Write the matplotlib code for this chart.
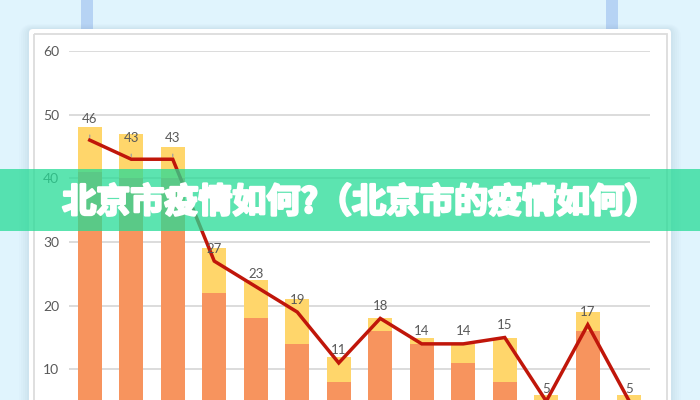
import matplotlib
matplotlib.use("Agg")
import matplotlib.pyplot as plt
from matplotlib.patches import Rectangle, FancyBboxPatch
from matplotlib.transforms import Affine2D
import matplotlib.patheffects as pe
import numpy as np

# ---- data ----
categories = list(range(1, 15))
lower_values = [41, 40, 40, 22, 18, 14, 8, 16, 14, 11, 8, 4, 16, 4]
upper_values = [7, 7, 5, 7, 6, 7, 4, 2, 1, 3, 7, 2, 3, 2]
line_values = [46, 43, 43, 27, 23, 19, 11, 18, 14, 14, 15, 5, 17, 5]
y_ticks = [10, 20, 30, 40, 50, 60]
title_text = "北京市疫情如何?（北京市的疫情如何）"

W, H = 700, 400
fig = plt.figure(figsize=(W / 100, H / 100), dpi=100)
fig.patch.set_facecolor("#e0f4fd")

# pixel transform (origin top-left)
PX = Affine2D().scale(1, -1).translate(0, H)

# hangers
for x0 in (81, 606):
    fig.add_artist(Rectangle((x0, 0), 11.5, 32, transform=PX, facecolor="#b6d3f4",
                             edgecolor="none", zorder=-3))

# card shadow
for i, a in enumerate([0.025, 0.03, 0.03, 0.035, 0.045]):
    g = 10 - 2 * i
    fig.add_artist(FancyBboxPatch((29 - g, 29 - g * 0.5), 642 + 2 * g, 420,
                                  boxstyle="round,pad=0,rounding_size=%d" % (4 + g),
                                  transform=PX, facecolor="#7d9bb5", alpha=a,
                                  edgecolor="none", zorder=-2.5))
# card
fig.add_artist(FancyBboxPatch((29, 29), 642, 420, boxstyle="round,pad=0,rounding_size=4",
                              transform=PX, facecolor="white", edgecolor="none", zorder=-2))
# inner border
fig.add_artist(Rectangle((33.5, 33.5), 633, 420, transform=PX, facecolor="none",
                         edgecolor="#dcdcdc", linewidth=1.3, zorder=-1.5))

# ---- axes ----
ax = fig.add_axes([69 / W, -33 / H, 581 / W, 382 / H])
ax.set_facecolor("none")
x = np.arange(len(categories))
lower = np.array(lower_values)
upper = np.array(upper_values)
ax.bar(x, lower, width=0.57, color="#f7945e", zorder=2)
ax.bar(x, upper, bottom=lower, width=0.57, color="#ffd66b", zorder=2)
ax.plot(x, line_values, color="#c0160a", linewidth=2.5, zorder=3, solid_joinstyle="miter")

for i, v in enumerate(line_values):
    if i < 3:
        ax.annotate(str(v), (x[i], v), xytext=(0, 15.5), textcoords="offset points",
                    ha="center", va="center", fontsize=9.5, color="#595959", family="Lato",
                    arrowprops=dict(arrowstyle="-", color="#a0a0a0", lw=0.9,
                                    shrinkA=5.5, shrinkB=2), zorder=4)
    else:
        ax.annotate(str(v), (x[i], v), xytext=(0, 9), textcoords="offset points",
                    ha="center", va="center", fontsize=9.5, color="#595959", family="Lato",
                    zorder=4)

ax.set_xlim(-0.5, len(categories) - 0.5)
ax.set_ylim(0, 60)
ax.set_yticks(y_ticks)
ax.set_yticklabels([str(t) for t in y_ticks], fontsize=10, color="#595959", family="Lato")
ax.set_xticks([])
ax.tick_params(axis="y", length=0, pad=7)
ax.grid(axis="y", color="#d9d9d9", linewidth=1.3, zorder=0)
ax.set_axisbelow(True)
for s in ax.spines.values():
    s.set_visible(False)

# ---- banner ----
fig.add_artist(Rectangle((0, 169), W, 61.5, transform=PX, facecolor=(38 / 255, 219 / 255, 150 / 255),
                         alpha=0.75, edgecolor="none", zorder=10))
fig.text(360 / W, (H - 202) / H, title_text, ha="center", va="center", color="white",
         fontsize=24.5, fontweight="heavy", family=["Noto Sans CJK SC", "DejaVu Sans"], zorder=11,
         path_effects=[pe.withStroke(linewidth=1.8, foreground="white")])

fig.savefig("out.png", dpi=100, facecolor=fig.get_facecolor())
